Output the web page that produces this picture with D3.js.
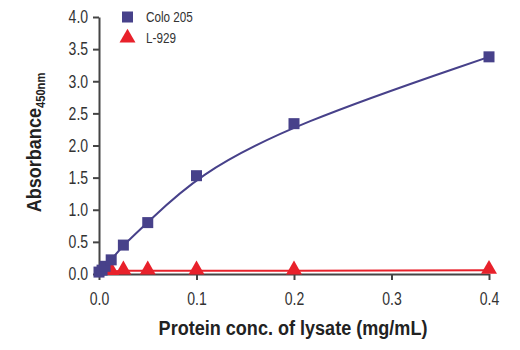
<!DOCTYPE html>
<html>
<head>
<meta charset="utf-8">
<script src="https://cdn.jsdelivr.net/npm/d3@7"></script>
<style>
  body { margin: 0; background: #fff; }
  .tick text { font-family: "Liberation Sans", Arial, sans-serif; font-size: 18px; fill: #333; }
  .axis path, .axis line { stroke: #444; stroke-width: 2px; }
  .ttl { font-family: "Liberation Sans", Arial, sans-serif; font-weight: bold; fill: #222; }
  .leg { font-family: "Liberation Sans", Arial, sans-serif; font-size: 15px; fill: #333; }
</style>
</head>
<body>
<div id="chart"></div>
<script>
// data
var conc = [0, 0.003125, 0.00625, 0.0125, 0.025, 0.05, 0.1, 0.2, 0.4];
var colo205 = [0.03, 0.06, 0.12, 0.22, 0.45, 0.80, 1.53, 2.34, 3.38];
var l929Conc = [0.0125, 0.025, 0.05, 0.1, 0.2, 0.4];
var l929 = [0.04, 0.05, 0.05, 0.05, 0.05, 0.06];
var xTicks = [0, 0.1, 0.2, 0.3, 0.4];
var yTicks = [0, 0.5, 1.0, 1.5, 2.0, 2.5, 3.0, 3.5, 4.0];

var blue = "#47418a", red = "#e8212b";
var squeeze = 0.78; // fake a condensed face

var margin = {top: 17, left: 99, right: 31, bottom: 76};
var W = 520, H = 350;
var width = W - margin.left - margin.right;
var height = H - margin.top - margin.bottom;

var svg = d3.select("#chart").append("svg")
    .attr("width", W)
    .attr("height", H)
    .append("g")
    .attr("transform", "translate(" + margin.left + "," + margin.top + ")");

var x = d3.scaleLinear().domain([0, 0.4]).range([0, width]);
var y = d3.scaleLinear().domain([0, 4]).range([height, 0]);

svg.append("g")
    .attr("class", "x axis")
    .attr("transform", "translate(0," + height + ")")
    .call(d3.axisBottom(x).tickValues(xTicks).tickSize(6).tickSizeOuter(0).tickPadding(12)
        .tickFormat(d3.format(".1f")))
    .selectAll(".tick text")
    .attr("transform", "scale(" + squeeze + ",1)");

svg.append("g")
    .attr("class", "y axis")
    .call(d3.axisLeft(y).tickValues(yTicks).tickSize(6).tickSizeOuter(0).tickPadding(8)
        .tickFormat(d3.format(".1f")))
    .selectAll(".tick text")
    .attr("transform", "scale(" + squeeze + ",1)");

// curves (smoothed like a fitted curve)
var blueLine = d3.line()
    .x(function(d, i) { return x(conc[i]); })
    .y(function(d) { return y(d); })
    .curve(d3.curveBasis);

svg.append("path")
    .datum(colo205)
    .attr("d", blueLine)
    .attr("fill", "none")
    .attr("stroke", blue)
    .attr("stroke-width", 2);

var redLine = d3.line()
    .x(function(d, i) { return x(i === 0 ? 0 : l929Conc[i - 1]); })
    .y(function(d) { return y(d); });

svg.append("path")
    .datum([0.04].concat(l929))
    .attr("d", redLine)
    .attr("fill", "none")
    .attr("stroke", red)
    .attr("stroke-width", 2);

// markers
svg.selectAll(".tri")
    .data(l929)
    .enter().append("path")
    .attr("class", "tri")
    .attr("d", d3.symbol().type(d3.symbolTriangle).size(110))
    .attr("transform", function(d, i) { return "translate(" + x(l929Conc[i]) + "," + (y(d) - 1) + ")"; })
    .attr("fill", red);

svg.selectAll(".sq")
    .data(colo205)
    .enter().append("rect")
    .attr("class", "sq")
    .attr("x", function(d, i) { return x(conc[i]) - 5.5; })
    .attr("y", function(d) { return y(d) - 5.5; })
    .attr("width", 11)
    .attr("height", 11)
    .attr("fill", blue);

// axis titles
svg.append("text")
    .attr("class", "ttl")
    .attr("transform", "translate(" + (width / 2 - 1) + "," + (height + 61) + ") scale(0.86,1)")
    .attr("text-anchor", "middle")
    .style("font-size", "21px")
    .text("Protein conc. of lysate (mg/mL)");

var yt = svg.append("text")
    .attr("class", "ttl")
    .attr("transform", "translate(-58," + (height / 2 - 3) + ") rotate(-90) scale(0.86,1)")
    .attr("text-anchor", "middle")
    .style("font-size", "21px");
yt.append("tspan").text("Absorbance");
yt.append("tspan").attr("dy", 4).style("font-size", "13px").text("450nm");

// legend
var legend = svg.append("g").attr("transform", "translate(23,0)");
legend.append("rect").attr("x", 0).attr("y", -5.5).attr("width", 11).attr("height", 11).attr("fill", blue);
legend.append("text").attr("class", "leg")
    .attr("transform", "translate(24,5) scale(" + squeeze + ",1)").text("Colo 205");
legend.append("path")
    .attr("d", d3.symbol().type(d3.symbolTriangle).size(110))
    .attr("transform", "translate(5.5,21)")
    .attr("fill", red);
legend.append("text").attr("class", "leg")
    .attr("transform", "translate(24,26) scale(" + squeeze + ",1)").text("L-929");
</script>
</body>
</html>
